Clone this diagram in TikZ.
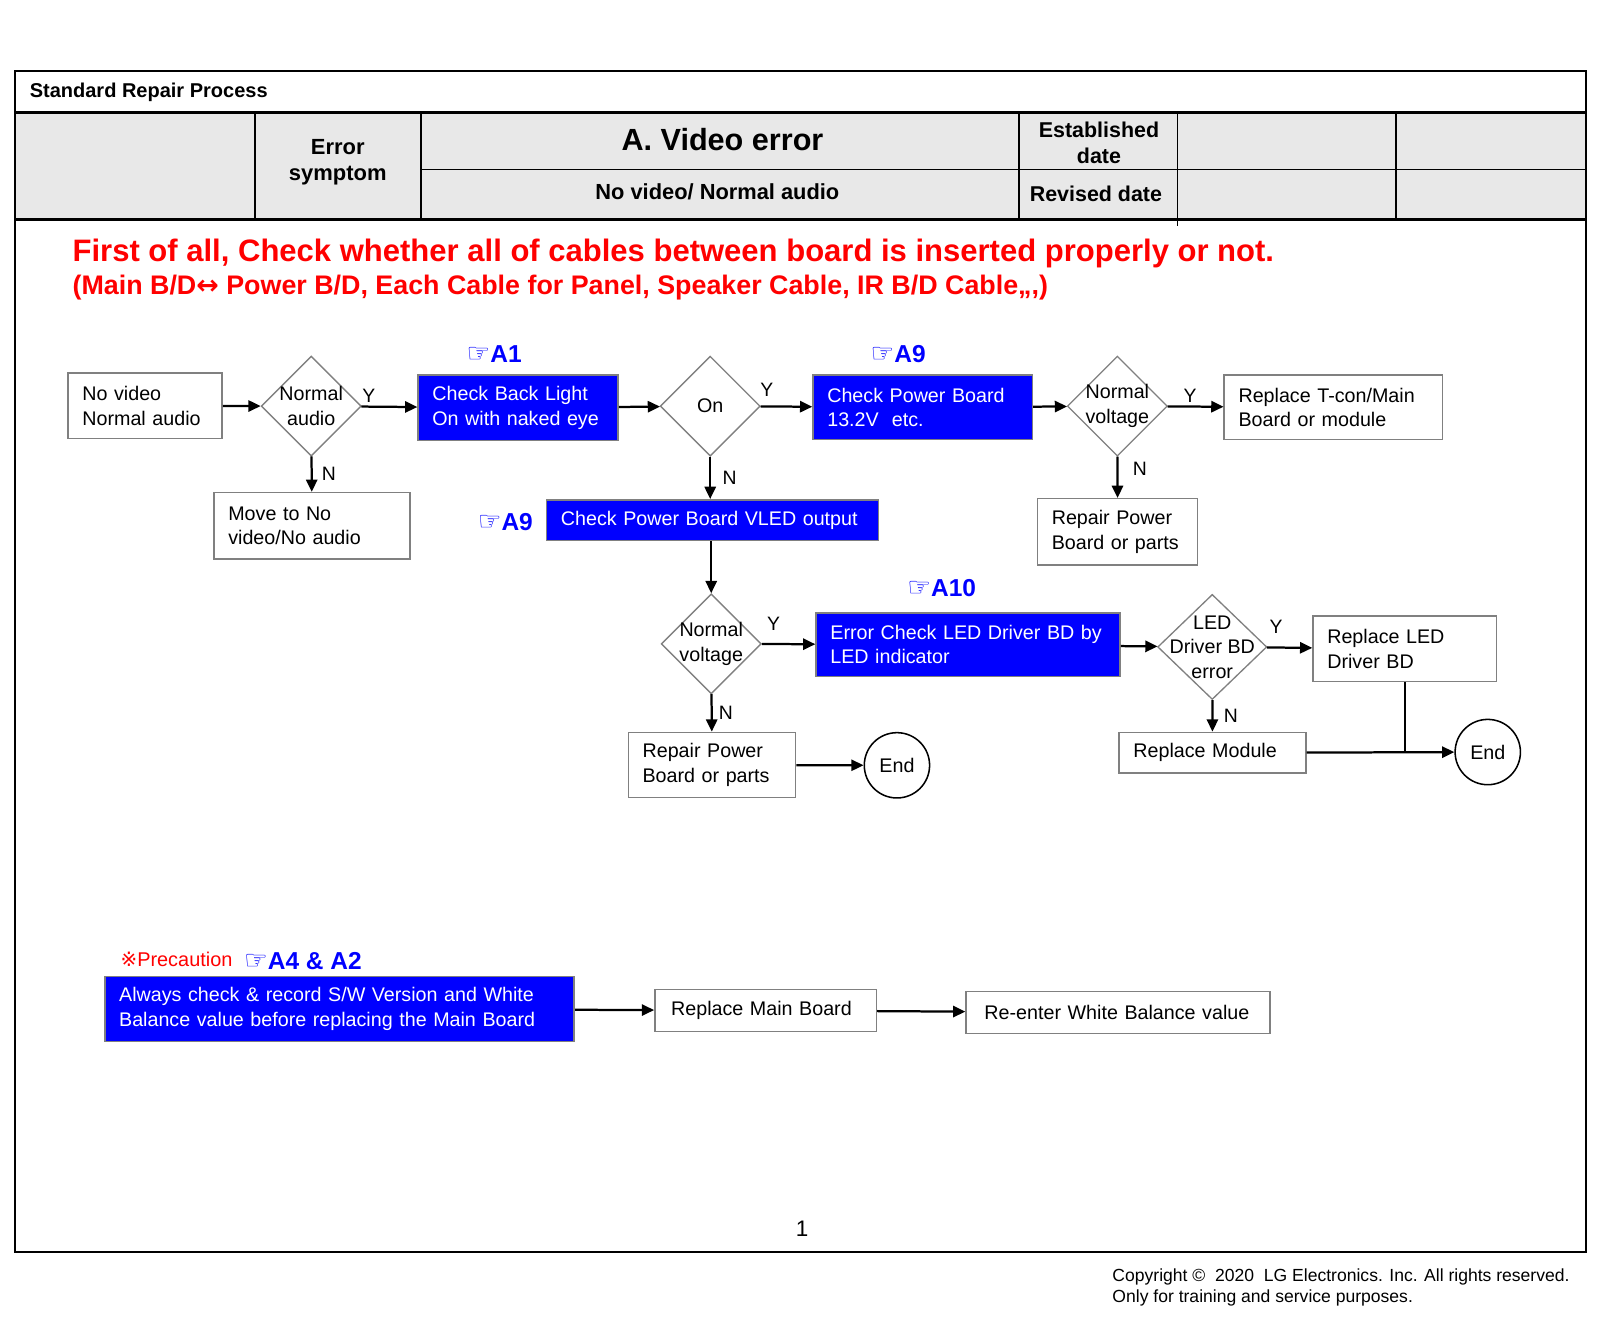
\documentclass[tikz,border=0pt]{standalone}
\usepackage{fontspec}
\setmainfont{Liberation Sans}
\newfontfamily\symfont{DejaVu Sans}
\usepackage{xcolor}
\usepackage{tikz}
\usetikzlibrary{arrows.meta, shapes.geometric, positioning}

\definecolor{lgblue}{RGB}{0,0,255}
\definecolor{lgred}{RGB}{255,0,0}
\definecolor{edgegray}{RGB}{128,128,128}
\definecolor{headgray}{RGB}{232,232,232}

\hyphenpenalty=10000
\exhyphenpenalty=10000

\newcommand{\fsz}[2]{\fontsize{#1}{#2}\selectfont}
\newcommand{\hand}{{\symfont\fontsize{26}{26}\selectfont ☞}}

\begin{document}
\begin{tikzpicture}[x=1pt, y=-1pt,
    box/.style={draw=edgegray, line width=1.5pt, fill=white, anchor=north west,
        inner xsep=14pt, inner ysep=0pt, align=left, font=\fsz{19.3}{24}},
    bluebox/.style={box, fill=lgblue, text=white},
    dec/.style={diamond, draw=edgegray, line width=1.3pt, fill=white, aspect=1,
        inner sep=0pt, minimum width=98pt, minimum height=98pt,
        label={[align=center, font=\fsz{19.3}{24}]center:#1}},
    endc/.style={circle, draw, line width=1.5pt, minimum size=64pt, inner sep=0pt,
        font=\fsz{19.3}{24}},
    arr/.style={-{Triangle[length=12pt,width=11pt]}, line width=2.2pt},
    yn/.style={font=\fsz{19}{22}, inner sep=3pt},
    ref/.style={text=lgblue, font=\bfseries\fsz{24}{28}, inner sep=0pt, anchor=west}]

    \useasboundingbox (0,0) rectangle (1568,1299);

    % Header table
    \fill[headgray] (16,112) rectangle (1553,214);
    \draw[line width=2pt] (15,70) rectangle (1554,1227);
    \draw[line width=3pt] (15,110) -- (1554,110);
    \draw[line width=3pt] (15,215) -- (1554,215);
    \draw[line width=2.5pt] (250,110) -- (250,215);
    \draw[line width=2pt] (413,110) -- (413,215);
    \draw[line width=2pt] (999,110) -- (999,215);
    \draw[line width=1.5pt] (1154,112) -- (1154,221);
    \draw[line width=1.5pt] (1368,110) -- (1368,215);
    \draw[line width=1.5pt] (413,166) -- (1554,166);

    \node[anchor=west, inner sep=0pt, font=\bfseries\fsz{19.6}{22}] (stdproc) at (29,90) {Standard Repair Process};
    \node[align=center, font=\bfseries\fsz{21.5}{26}] (errsym) at (331,159) {Error\\symptom};
    \node[font=\bfseries\fsz{30}{36}] (vidtitle) at (708,137) {A. Video error};
    \node[font=\bfseries\fsz{21.4}{26}] (symtext) at (703,188) {No video/ Normal audio};
    \node[align=center, font=\bfseries\fsz{21}{25}] (estdate) at (1077,140) {Established\\date};
    \node[font=\bfseries\fsz{21}{26}] (revdate) at (1074,190) {Revised date};

    % Red notice
    \node[anchor=west, inner sep=0pt, text=lgred, font=\bfseries\fsz{30.4}{34}] (notice1) at (71,248)
        {First of all, Check whether all of cables between board is inserted properly or not.};
    \node[anchor=west, inner sep=0pt, text=lgred, font=\bfseries\fsz{26.3}{30}] (notice2) at (71,282)
        {(Main B/D{\symfont↔} Power B/D, Each Cable for Panel, Speaker Cable, IR B/D Cable,,,)};

    % Top row
    \node[box, minimum width=151pt, minimum height=64pt, text width=123pt] (novid) at (66,365) {No video\\Normal audio};
    \node[dec={Normal\\audio}] (chkaud) at (305,398) {};
    \node[bluebox, minimum width=196pt, minimum height=64pt, text width=168pt] (backlt) at (409,367) {Check Back Light\\On with naked eye};
    \node[dec={On}] (blon) at (696,398) {};
    \node[bluebox, minimum width=215pt, minimum height=63pt, text width=187pt] (pw13) at (796,367) {Check Power Board\\13.2V~~etc.};
    \node[dec={Normal\\voltage}] (volt1) at (1095,398) {};
    \node[box, minimum width=214pt, minimum height=63pt, text width=186pt] (tcon) at (1199,367) {Replace T-con/Main\\Board or module};
    \node[box, minimum width=157pt, minimum height=65pt, text width=129pt] (rep1) at (1016,488) {Repair Power\\Board or parts};
    \node[box, minimum width=192pt, minimum height=65pt, text width=164pt] (nvna) at (209,482) {Move to No\\video/No audio};

    % Middle rows
    \node[bluebox, minimum width=325pt, minimum height=40pt, text width=297pt] (vled) at (535,489) {Check Power Board VLED output};
    \node[dec={Normal\\voltage}] (volt2) at (697,631) {};
    \node[bluebox, minimum width=298pt, minimum height=62pt, text width=270pt] (ledchk) at (799,600) {Error Check LED Driver BD by\\LED indicator};
    \node[dec={LED\\Driver BD\\error}, minimum width=107pt, minimum height=103pt] (drverr) at (1188,634) {};
    \node[box, minimum width=180pt, minimum height=64pt, text width=152pt] (repled) at (1286,603) {Replace LED\\Driver BD};
    \node[box, minimum width=183pt, minimum height=40pt, text width=155pt] (repmod) at (1096,717) {Replace Module};
    \node[endc] (end2) at (1458,737) {End};
    \node[box, minimum width=164pt, minimum height=64pt, text width=136pt] (rep2) at (615,717) {Repair Power\\Board or parts};
    \node[endc] (end1) at (879,750) {End};

    % Reference marks
    \node[ref] (refa1) at (457,347) {\hand A1};
    \node[ref] (refa9a) at (853,347) {\hand A9};
    \node[ref] (refa9b) at (468,512) {\hand A9};
    \node[ref] (refa10) at (889,576) {\hand A10};

    % Precaution row
    \node[text=lgred, font=\fsz{19.5}{22}, anchor=west, inner sep=0pt] (prec) at (118,940) {{\symfont ※}Precaution};
    \node[ref] (refa42) at (239,942) {\hand A4 \& A2};
    \node[bluebox, minimum width=460pt, minimum height=64pt, text width=432pt] (swver) at (102,956) {Always check \& record S/W Version and White\\Balance value before replacing the Main Board};
    \node[box, minimum width=217pt, minimum height=41pt, inner xsep=16pt, text width=185pt] (repmain) at (641,969) {Replace Main Board};
    \node[box, minimum width=298pt, minimum height=41pt, inner xsep=18pt, text width=262pt] (wbal) at (946,971) {Re-enter White Balance value};

    % Connectors
    \draw[arr] (novid) -- (chkaud);
    \draw[arr] (chkaud) -- node[yn, above, pos=0.13] {Y} (backlt);
    \draw[arr] (chkaud) -- node[yn, right, xshift=6pt] {N} (nvna);
    \draw[arr] (backlt) -- (blon);
    \draw[arr] (blon) -- node[yn, above, pos=0.12, yshift=6pt] {Y} (pw13);
    \draw[arr] (blon.south) -- node[yn, right, xshift=8pt] {N} (vled.north -| blon.south);
    \draw[arr] (pw13) -- (volt1);
    \draw[arr] (volt1) -- node[yn, above, pos=0.4] {Y} (tcon);
    \draw[arr] (volt1) -- node[yn, right, pos=0.3, xshift=11pt] {N} (rep1);
    \draw[arr] (vled.south -| volt2.north) -- (volt2.north);
    \draw[arr] (volt2) -- node[yn, above, pos=0.22, yshift=9pt] {Y} (ledchk);
    \draw[arr] (volt2) -- node[yn, right, xshift=3pt] {N} (rep2);
    \draw[arr] (rep2) -- (end1);
    \draw[arr] (ledchk) -- (drverr);
    \draw[arr] (drverr) -- node[yn, above, pos=0.2, yshift=10pt] {Y} (repled);
    \draw[arr] (drverr) -- node[yn, right, xshift=7pt] {N} (repmod);
    \draw[arr] (repmod) -- (end2);
    \draw[line width=2.2pt] (repled.south) -- (repled.south |- end2.west);
    \draw[arr] (swver) -- (repmain);
    \draw[arr] (repmain) -- (wbal);

    % Footer
    \node[font=\fsz{22}{26}] (pagenum) at (786,1204) {1};
    \node[anchor=north west, align=left, inner sep=0pt, font=\fsz{17.2}{21}] (copyr) at (1090,1243)
        {Copyright ©~~2020~~LG Electronics. Inc. All rights reserved.\\Only for training and service purposes.};

\end{tikzpicture}
\end{document}
